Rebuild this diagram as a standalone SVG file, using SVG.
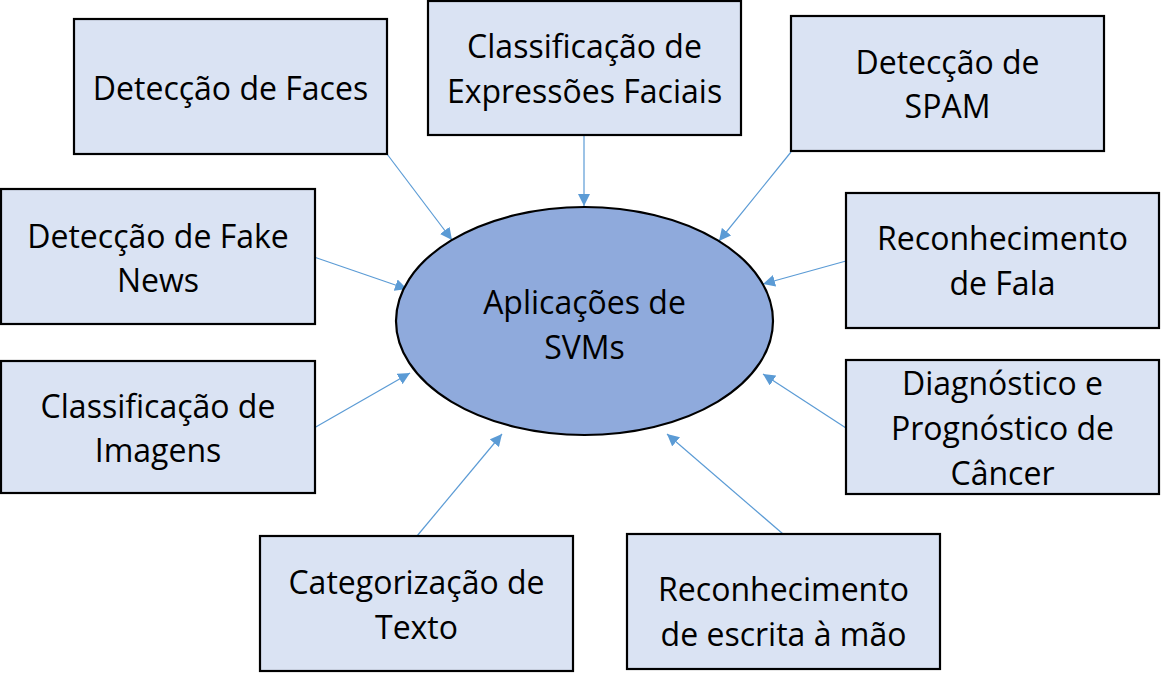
<svg xmlns="http://www.w3.org/2000/svg" width="1162" height="673" viewBox="0 0 1162 673">
<style>
.box{fill:#DAE3F3;stroke:#000;stroke-width:2.2}
.ell{fill:#8FAADC;stroke:#000;stroke-width:2.2}
.t{font-family:"Open Sans","Liberation Sans",sans-serif;font-size:32px;fill:#000;text-anchor:middle}
.c{stroke:#5B9BD5;stroke-width:1.2;fill:none;marker-end:url(#ah)}
</style>
<defs>
<marker id="ah" viewBox="0 0 12 12" refX="12" refY="6" markerWidth="12" markerHeight="12" markerUnits="userSpaceOnUse" orient="auto">
<path d="M0,0 L12,6 L0,12 z" fill="#5B9BD5"/>
</marker>
</defs>
<rect width="1162" height="673" fill="#fff"/>
<g id="connectors">
<line class="c" x1="387" y1="154" x2="452" y2="240"/>
<line class="c" x1="584" y1="135" x2="584" y2="206"/>
<line class="c" x1="791" y1="152" x2="719" y2="241"/>
<line class="c" x1="846" y1="261" x2="763" y2="284"/>
<line class="c" x1="846" y1="428" x2="763" y2="374"/>
<line class="c" x1="783" y1="534" x2="667" y2="434"/>
<line class="c" x1="417" y1="536" x2="502" y2="434"/>
<line class="c" x1="314" y1="428" x2="410" y2="373"/>
<line class="c" x1="314" y1="257" x2="407" y2="289"/>
</g>
<g id="center">
<ellipse class="ell" cx="584.5" cy="321" rx="188.5" ry="114"/>
<text class="t" x="584.5" y="314">Aplicações de</text>
<text class="t" x="584.5" y="359">SVMs</text>
</g>
<g id="faces">
<rect class="box" x="74" y="19" width="313" height="135"/>
<text class="t" x="230.5" y="100">Detecção de Faces</text>
</g>
<g id="expressoes">
<rect class="box" x="428" y="1" width="313" height="134"/>
<text class="t" x="584.5" y="58">Classificação de</text>
<text class="t" x="584.5" y="103">Expressões Faciais</text>
</g>
<g id="spam">
<rect class="box" x="791" y="16" width="313" height="135"/>
<text class="t" x="947.5" y="74">Detecção de</text>
<text class="t" x="947.5" y="118">SPAM</text>
</g>
<g id="fakenews">
<rect class="box" x="1" y="189" width="314" height="135"/>
<text class="t" x="158" y="248">Detecção de Fake</text>
<text class="t" x="158" y="292">News</text>
</g>
<g id="fala">
<rect class="box" x="846" y="193" width="313" height="135"/>
<text class="t" x="1002.5" y="250">Reconhecimento</text>
<text class="t" x="1002.5" y="295">de Fala</text>
</g>
<g id="imagens">
<rect class="box" x="1" y="361" width="314" height="132"/>
<text class="t" x="158" y="418">Classificação de</text>
<text class="t" x="158" y="462">Imagens</text>
</g>
<g id="cancer">
<rect class="box" x="846" y="360" width="313" height="134"/>
<text class="t" x="1002.5" y="395">Diagnóstico e</text>
<text class="t" x="1002.5" y="440">Prognóstico de</text>
<text class="t" x="1002.5" y="485">Câncer</text>
</g>
<g id="texto">
<rect class="box" x="260" y="536" width="313" height="135"/>
<text class="t" x="416.5" y="594">Categorização de</text>
<text class="t" x="416.5" y="639">Texto</text>
</g>
<g id="escrita">
<rect class="box" x="627" y="534" width="313" height="135"/>
<text class="t" x="783.5" y="601">Reconhecimento</text>
<text class="t" x="783.5" y="646">de escrita à mão</text>
</g>
</svg>
